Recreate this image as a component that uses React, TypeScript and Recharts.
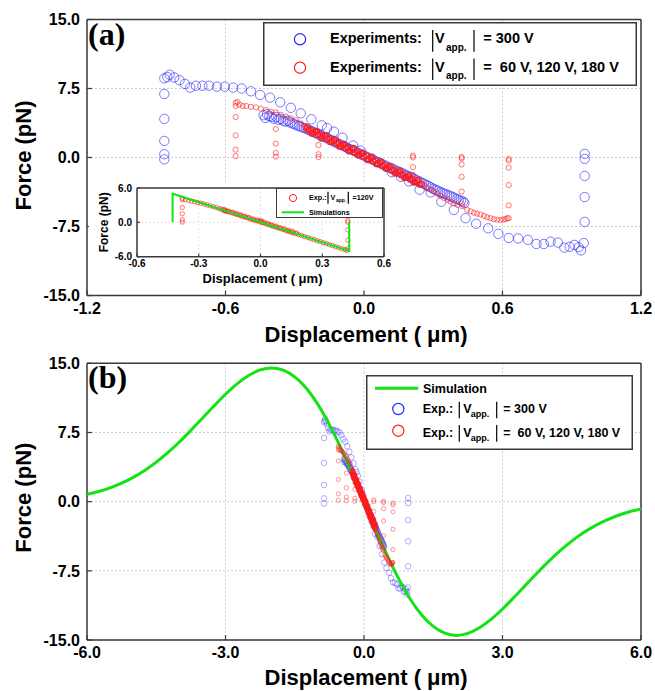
import React from 'react';
import { ComposedChart, Scatter, XAxis, YAxis, CartesianGrid, Legend } from 'recharts';

const FONT = '"Liberation Sans", Arial, Helvetica, sans-serif';
const SERIF = '"Liberation Serif", "Times New Roman", serif';
const FRAME = '#3a3a3a';
const BLUE = '#2a2aff';
const RED = '#ff1a1a';
const GREEN = '#12e312';

// ---------- tick labels ----------
const xTicksA = [-1.2, -0.6, 0, 0.6, 1.2];
const xTicksB = [-6, -3, 0, 3, 6];
const yTicksMain = [-15, -7.5, 0, 7.5, 15];
const xTicksInset = [-0.6, -0.3, 0, 0.3, 0.6];
const yTicksInset = [-6, 0, 6];

// ---------- |V app.| = 300 V experiments (x in um, y in pN) ----------
const blueColLeftX = -0.865;
const blueColLeftY = [8.6, 6.9, 4.2, 1.8, 0.35, -0.2];
const blueUpper = [
  [-0.852, 8.75], [-0.842, 9.0], [-0.822, 8.7], [-0.799, 8.4], [-0.776, 8.0], [-0.753, 7.6],
  [-0.728, 7.8], [-0.7, 7.8], [-0.671, 7.8], [-0.637, 7.7], [-0.603, 7.7], [-0.567, 7.6],
  [-0.53, 7.5], [-0.49, 7.2], [-0.45, 6.8], [-0.407, 6.5], [-0.363, 6.0], [-0.317, 5.4],
  [-0.274, 4.8], [-0.228, 4.15], [-0.183, 3.5], [-0.16, 3.2], [-0.13, 2.8], [-0.093, 2.15],
  [-0.047, 1.3], [-0.015, 0.75],
];
const blueCore = [
  [-0.435, 4.6], [-0.428, 4.3], [-0.42, 4.7], [-0.41, 4.5], [-0.4, 4.4], [-0.39, 4.2], [-0.38, 4.4],
  [-0.37, 4.1], [-0.36, 4.2], [-0.35, 4.0], [-0.34, 3.9], [-0.33, 4.0], [-0.32, 3.8], [-0.31, 3.7],
  [-0.3, 3.6], [-0.29, 3.5], [-0.28, 3.4], [-0.27, 3.3], [-0.26, 3.2], [-0.25, 3.15], [-0.24, 3.0],
  [-0.23, 2.9], [-0.22, 2.8], [-0.21, 2.65], [-0.2, 2.55], [-0.19, 2.45], [-0.18, 2.3], [-0.17, 2.2],
  [-0.16, 2.1], [-0.15, 1.95], [-0.14, 1.85], [-0.13, 1.75], [-0.12, 1.6], [-0.11, 1.5], [-0.1, 1.4],
  [-0.09, 1.25], [-0.08, 1.15], [-0.07, 1.0], [-0.06, 0.9], [-0.05, 0.8], [-0.04, 0.7], [-0.03, 0.55],
  [-0.02, 0.45], [-0.01, 0.3], [0.0, 0.2], [0.01, 0.1], [0.02, -0.05], [0.03, -0.15], [0.04, -0.25],
  [0.05, -0.4], [0.06, -0.5], [0.07, -0.6], [0.08, -0.75], [0.09, -0.85], [0.1, -1.0], [0.11, -1.1],
  [0.12, -1.2], [0.13, -1.3], [0.14, -1.45], [0.15, -1.55], [0.16, -1.65], [0.17, -1.75], [0.18, -1.9],
  [0.19, -2.0], [0.2, -2.1], [0.21, -2.25], [0.22, -2.35], [0.23, -2.5], [0.24, -2.6], [0.25, -2.75],
  [0.26, -2.85], [0.27, -3.0], [0.28, -3.1], [0.29, -3.25], [0.3, -3.4], [0.31, -3.5], [0.32, -3.6],
  [0.33, -3.75], [0.34, -3.85], [0.35, -3.95], [0.36, -4.05], [0.37, -4.15], [0.38, -4.25],
  [0.39, -4.35], [0.4, -4.5], [0.41, -4.6], [0.42, -4.7], [0.43, -4.8], [0.435, -4.95],
];
const blueLower = [
  [0.12, -1.6], [0.16, -2.1], [0.195, -2.6], [0.241, -3.5], [0.289, -3.8], [0.335, -4.8],
  [0.389, -5.7], [0.44, -6.6], [0.486, -7.2], [0.538, -7.7], [0.582, -8.3], [0.627, -8.75],
  [0.668, -8.8], [0.71, -8.95], [0.747, -9.4], [0.779, -9.4], [0.808, -9.15], [0.84, -9.25],
  [0.868, -9.8], [0.891, -9.7], [0.912, -9.5], [0.93, -9.75], [0.94, -10.1], [0.952, -9.3],
];
const blueColRightX = 0.956;
const blueColRightY = [0.4, -0.15, -2.0, -4.3, -7.0];

// ---------- |V app.| = 60, 120, 180 V experiments ----------
const redCols: [number, number[]][] = [
  [-0.556, [5.95, 5.6, 4.4, 2.4, 0.85, 0.15]],
  [-0.382, [3.1, 1.5, 0.5, 0.1]],
  [-0.197, [1.35, 0.35, 0.05]],
  [0.212, [0.2, 0.0, -1.05, -1.9]],
  [0.423, [0.05, -0.1, -0.75, -2.1, -3.7, -5.0]],
  [0.627, [-0.15, -0.35, -1.1, -3.0, -5.2, -6.6]],
];
const redUpper = [
  [-0.548, 6.05], [-0.54, 5.75], [-0.525, 5.6], [-0.51, 5.6], [-0.49, 5.5], [-0.468, 5.45],
  [-0.447, 5.3], [-0.425, 5.16], [-0.403, 5.0], [-0.382, 4.9], [-0.36, 4.64], [-0.338, 4.44],
  [-0.317, 4.26], [-0.295, 4.08], [-0.274, 3.7], [-0.255, 3.4],
];
const redCore = [
  [-0.25, 3.15], [-0.24, 2.95], [-0.23, 2.95], [-0.22, 2.75], [-0.21, 2.75], [-0.2, 2.5], [-0.19, 2.5],
  [-0.18, 2.3], [-0.17, 2.3], [-0.16, 2.05], [-0.15, 2.05], [-0.14, 1.8], [-0.13, 1.8], [-0.12, 1.55],
  [-0.11, 1.55], [-0.1, 1.3], [-0.09, 1.3], [-0.08, 1.05], [-0.07, 1.05], [-0.06, 0.8], [-0.05, 0.85],
  [-0.04, 0.55], [-0.03, 0.6], [-0.02, 0.35], [-0.01, 0.4], [0.0, 0.1], [0.01, 0.2], [0.02, -0.15],
  [0.03, -0.1], [0.04, -0.4], [0.05, -0.35], [0.06, -0.65], [0.07, -0.6], [0.08, -0.9], [0.09, -0.85],
  [0.1, -1.15], [0.11, -1.1], [0.12, -1.4], [0.13, -1.35], [0.14, -1.65], [0.15, -1.6], [0.16, -1.9],
  [0.17, -1.85], [0.18, -2.15], [0.19, -2.1], [0.2, -2.4], [0.21, -2.35], [0.22, -2.65], [0.23, -2.6],
  [0.24, -2.9], [0.25, -2.9],
  [-0.245, 3.3], [-0.225, 2.6], [-0.205, 2.85], [-0.185, 2.1], [-0.165, 2.4], [-0.145, 1.7],
  [-0.125, 1.95], [-0.105, 1.2], [-0.085, 1.45], [-0.065, 0.7], [-0.045, 1.0], [-0.025, 0.25],
  [-0.005, 0.5], [0.015, -0.25], [0.035, 0.05], [0.055, -0.7], [0.075, -0.45], [0.095, -1.2],
  [0.115, -0.95], [0.135, -1.7], [0.155, -1.45], [0.175, -2.2], [0.195, -1.95], [0.215, -2.7],
  [0.235, -2.45],
];
const redLower = [
  [0.262, -3.1], [0.274, -3.35], [0.29, -3.5], [0.303, -3.7], [0.318, -3.95], [0.332, -4.2],
  [0.347, -4.4], [0.361, -4.6], [0.375, -4.8], [0.389, -5.0], [0.405, -5.15], [0.426, -5.3],
  [0.447, -5.7], [0.462, -5.85], [0.476, -6.0], [0.49, -6.1], [0.505, -6.2], [0.52, -6.35],
  [0.534, -6.5], [0.548, -6.6], [0.563, -6.7], [0.577, -6.75], [0.591, -6.8], [0.603, -6.75],
  [0.613, -6.7], [0.62, -6.6],
];

// ---------- simulation (panel b) ----------
const simX = [
  -6, -5.75, -5.5, -5.25, -5, -4.75, -4.5, -4.25, -4, -3.75, -3.5, -3.25, -3, -2.75, -2.5, -2.25, -2,
  -1.75, -1.5, -1.25, -1, -0.75, -0.5, -0.25, 0, 0.25, 0.5, 0.75, 1, 1.25, 1.5, 1.75, 2, 2.25, 2.5,
  2.75, 3, 3.25, 3.5, 3.75, 4, 4.25, 4.5, 4.75, 5, 5.25, 5.5, 5.75, 6,
];
const simF = [
  0.8, 1.1, 1.5, 2.0, 2.63, 3.38, 4.28, 5.31, 6.47, 7.73, 9.05, 10.37, 11.64, 12.77, 13.68, 14.28, 14.5,
  14.26, 13.53, 12.29, 10.55, 8.35, 5.79, 2.96, 0, -2.96, -5.79, -8.35, -10.55, -12.29, -13.53, -14.26,
  -14.5, -14.28, -13.68, -12.77, -11.64, -10.37, -9.05, -7.73, -6.47, -5.31, -4.28, -3.38, -2.63, -2.0,
  -1.5, -1.1, -0.8,
];

// ---------- inset: |V app.| = 120 V and simulation ----------
const insetColLeftX = -0.38;
const insetColLeftY = [4.2, 3.95, 2.6, 1.5, 0.45, 0.05];
const insetTrack = [
  [-0.365, 3.95], [-0.35, 3.85], [-0.335, 3.7], [-0.32, 3.6], [-0.305, 3.45], [-0.29, 3.35],
  [-0.275, 3.2], [-0.26, 3.05], [-0.245, 2.9], [-0.23, 2.75], [-0.215, 2.6], [-0.2, 2.4], [-0.19, 2.3],
  [-0.18, 2.15], [-0.175, 2.0], [-0.17, 2.05], [-0.165, 1.95], [-0.16, 1.9], [-0.15, 1.8], [-0.14, 1.7],
  [-0.13, 1.55], [-0.12, 1.45], [-0.11, 1.35], [-0.1, 1.2], [-0.09, 1.1], [-0.08, 1.0], [-0.07, 0.85],
  [-0.06, 0.75], [-0.05, 0.6], [-0.04, 0.5], [-0.03, 0.4], [-0.02, 0.3], [-0.01, 0.2], [0.0, 0.3],
  [0.0, 0.05], [0.005, 0.2], [0.01, -0.05], [0.02, -0.15], [0.03, -0.3], [0.04, -0.4], [0.05, -0.5],
  [0.06, -0.65], [0.07, -0.75], [0.08, -0.9], [0.09, -1.0], [0.1, -1.1], [0.11, -1.25], [0.12, -1.35],
  [0.13, -1.5], [0.14, -1.6], [0.15, -1.75], [0.16, -1.85], [0.17, -1.95],
  [-0.175, 2.25], [-0.155, 1.95], [-0.135, 1.8], [-0.115, 1.5], [-0.095, 1.3], [-0.075, 1.05],
  [-0.055, 0.85], [-0.035, 0.55], [-0.015, 0.4], [0.015, 0.05], [0.035, -0.2], [0.055, -0.45],
  [0.075, -0.65], [0.095, -0.95], [0.115, -1.1], [0.135, -1.4], [0.155, -1.55], [0.175, -1.85],
  [0.185, -2.15], [0.2, -2.3], [0.215, -2.5], [0.23, -2.65], [0.245, -2.85], [0.26, -3.0],
  [0.275, -3.2], [0.29, -3.35], [0.305, -3.55], [0.32, -3.7], [0.335, -3.9], [0.35, -4.05],
  [0.365, -4.25], [0.38, -4.4], [0.395, -4.6], [0.41, -4.75], [0.42, -4.9],
];
const insetColRightX = 0.424;
const insetColRightY = [0.35, 0.05, -1.3, -3.1, -4.6];
const insetSimX = [-0.427, -0.427, 0.431, 0.431];
const insetSimF = [0.0, 5.0, -5.0, 0.0];

// ---------- build series ----------
const pts = (arr: number[][]) => arr.map(([x, y]) => ({ x, y }));
const col = (x: number, ys: number[]) => ys.map((y) => ({ x, y }));
const blue300 = [
  ...col(blueColLeftX, blueColLeftY),
  ...pts(blueUpper),
  ...pts(blueCore),
  ...pts(blueLower),
  ...col(blueColRightX, blueColRightY),
];
const redSparse = [
  ...redCols.flatMap(([x, ys]) => col(x, ys)),
  ...pts(redUpper),
  ...pts(redLower),
];
const redDense = pts(redCore);
const simData = simX.map((x, i) => ({ x, y: simF[i] }));
const inset120 = [
  ...col(insetColLeftX, insetColLeftY),
  ...pts(insetTrack),
  ...col(insetColRightX, insetColRightY),
];
const insetSim = insetSimX.map((x, i) => ({ x, y: insetSimF[i] }));

// ---------- helpers ----------
const fmt1 = (v: number) => v.toFixed(1);
const ring = (r: number, color: string, op: number, sw = 1) => (p: any) =>
  p && p.cx != null ? (
    <circle cx={p.cx} cy={p.cy} r={r} fill="none" stroke={color} strokeOpacity={op} strokeWidth={sw} />
  ) : (
    <g />
  );
const noDot = () => <g />;

const tickFont = { fill: '#000', fontSize: 16, fontWeight: 700, fontFamily: FONT };
const tickFontSmall = { fill: '#000', fontSize: 10, fontWeight: 700, fontFamily: FONT };
const axisLine = { stroke: FRAME, strokeWidth: 1.5 };
const tickLine = { stroke: FRAME, strokeWidth: 1.2 };

const xLabel = (dy: number, size: number, dx = 2) => (p: any) => {
  const vb = p.viewBox || { x: 0, y: 0, width: 0, height: 0 };
  return (
    <text
      x={vb.x + vb.width / 2 + dx}
      y={vb.y + dy}
      textAnchor="middle"
      fill="#000"
      style={{ fontFamily: FONT, fontWeight: 700, fontSize: size }}
    >
      Displacement ( μm)
    </text>
  );
};
const yLabel = (cx: number, dyc: number, size: number) => (p: any) => {
  const vb = p.viewBox || { x: 0, y: 0, width: 0, height: 0 };
  const cy = vb.y + vb.height / 2 + dyc;
  return (
    <text
      x={cx}
      y={cy}
      transform={`rotate(-90 ${cx} ${cy})`}
      textAnchor="middle"
      dominantBaseline="central"
      fill="#000"
      style={{ fontFamily: FONT, fontWeight: 700, fontSize: size }}
    >
      Force (pN)
    </text>
  );
};

type RowProps = {
  base: number;
  size: number;
  sub: number;
  label: string;
  lx: number;
  b1: number;
  vx: number;
  ax: number;
  b2: number;
  rx: number;
  rhs: string;
  barUp: number;
  barDown: number;
  subDrop: number;
};
const VRow = (r: RowProps) => (
  <g style={{ fontFamily: FONT, fontWeight: 700 }} fill="#000">
    <text x={r.lx} y={r.base} fontSize={r.size}>{r.label}</text>
    <line x1={r.b1} x2={r.b1} y1={r.base - r.barUp} y2={r.base + r.barDown} stroke="#000" strokeWidth={1.2} />
    <text x={r.vx} y={r.base} fontSize={r.size}>V</text>
    <text x={r.ax} y={r.base + r.subDrop} fontSize={r.sub}>app.</text>
    <line x1={r.b2} x2={r.b2} y1={r.base - r.barUp} y2={r.base + r.barDown} stroke="#000" strokeWidth={1.2} />
    <text x={r.rx} y={r.base} fontSize={r.size} style={{ whiteSpace: 'pre' }}>{r.rhs}</text>
  </g>
);

const LegendA = () => (
  <svg width={374} height={64} style={{ display: 'block', overflow: 'visible' }}>
    <rect x={0.75} y={0.75} width={372.5} height={62.5} fill="#fff" stroke={FRAME} strokeWidth={1.5} />
    <circle cx={37} cy={17.3} r={5.6} fill="none" stroke={BLUE} strokeWidth={1.2} />
    <circle cx={37} cy={45.7} r={5.6} fill="none" stroke={RED} strokeWidth={1.2} />
    <VRow base={21.3} size={14.5} sub={10} label="Experiments:" lx={67} b1={169.7} vx={172} ax={183} b2={211} rx={220.3}
      rhs="= 300 V" barUp={13.3} barDown={8.4} subDrop={7.5} />
    <VRow base={49.7} size={14.5} sub={10} label="Experiments:" lx={67} b1={169.7} vx={172} ax={183} b2={211} rx={220.3}
      rhs="=  60 V, 120 V, 180 V" barUp={13.3} barDown={8.4} subDrop={7.5} />
  </svg>
);

const LegendB = () => (
  <svg width={267} height={75} style={{ display: 'block', overflow: 'visible' }}>
    <rect x={0.75} y={0.75} width={265.5} height={73.5} fill="#fff" stroke={FRAME} strokeWidth={1.5} />
    <line x1={9} x2={52.3} y1={13.3} y2={13.3} stroke={GREEN} strokeWidth={3} />
    <text x={57} y={18.3} fontSize={12.5} fill="#000" style={{ fontFamily: FONT, fontWeight: 700 }}>Simulation</text>
    <circle cx={32.3} cy={34} r={5.6} fill="none" stroke={BLUE} strokeWidth={1.2} />
    <circle cx={32.3} cy={55.7} r={5.6} fill="none" stroke={RED} strokeWidth={1.2} />
    <VRow base={38.3} size={12.5} sub={9} label="Exp.:" lx={56.7} b1={93.3} vx={97.3} ax={104.7} b2={130.7} rx={137.3}
      rhs="= 300 V" barUp={11.6} barDown={5} subDrop={4} />
    <VRow base={61.7} size={12.5} sub={9} label="Exp.:" lx={56.7} b1={93.3} vx={97.3} ax={104.7} b2={130.7} rx={137.3}
      rhs="=  60 V, 120 V, 180 V" barUp={11.6} barDown={5} subDrop={4} />
  </svg>
);

const LegendInset = () => (
  <svg width={107} height={30} style={{ display: 'block', overflow: 'visible' }}>
    <rect x={0.5} y={0.5} width={106} height={29} fill="#fff" stroke={FRAME} strokeWidth={1} />
    <circle cx={17} cy={10} r={3.6} fill="none" stroke={RED} strokeWidth={1} />
    <VRow base={11.7} size={7.2} sub={5} label="Exp.:" lx={33} b1={52} vx={54.5} ax={60} b2={72.3} rx={76.5}
      rhs="=120V" barUp={8} barDown={4} subDrop={2.5} />
    <line x1={5.7} x2={28} y1={24.3} y2={24.3} stroke={GREEN} strokeWidth={2} />
    <text x={33} y={26.8} fontSize={7.2} fill="#000" style={{ fontFamily: FONT, fontWeight: 700 }}>Simulations</text>
  </svg>
);

export default function App() {
  return (
    <div style={{ position: 'absolute', left: 0, top: 0, width: 655, height: 691, background: '#fff', overflow: 'hidden' }}>
      {/* Panel (a) */}
      <div style={{ position: 'absolute', left: 0, top: 0 }}>
        <ComposedChart width={655} height={350} margin={{ top: 18.5, right: 13, bottom: 0, left: 0 }}>
          <CartesianGrid stroke="#cdcdcd" strokeDasharray="2 2" />
          <XAxis type="number" dataKey="x" domain={[-1.2, 1.2]} ticks={xTicksA} interval={0} tickFormatter={fmt1}
            height={54.5} tickSize={-5} tickMargin={12} axisLine={axisLine} tickLine={tickLine} tick={tickFont}
            allowDataOverflow label={xLabel(46.2, 22)} />
          <XAxis xAxisId="top" orientation="top" type="number" domain={[-1.2, 1.2]} ticks={xTicksA} interval={0}
            height={1} tick={false} tickSize={-5} axisLine={axisLine} tickLine={tickLine} allowDataOverflow />
          <YAxis type="number" dataKey="y" domain={[-15, 15]} ticks={yTicksMain} interval={0} tickFormatter={fmt1}
            width={87} tickSize={-5} tickMargin={12} axisLine={axisLine} tickLine={tickLine} tick={tickFont}
            allowDataOverflow label={yLabel(23.5, -2, 22)} />
          <YAxis yAxisId="right" orientation="right" type="number" domain={[-15, 15]} ticks={yTicksMain} interval={0}
            width={1} tick={false} tickSize={-5} axisLine={axisLine} tickLine={tickLine} allowDataOverflow />
          <Scatter data={blue300} shape={ring(4.7, BLUE, 0.62)} isAnimationActive={false} />
          <Scatter data={redSparse} shape={ring(2.6, RED, 0.6)} isAnimationActive={false} />
          <Scatter data={redDense} shape={ring(2.8, RED, 0.8, 1.4)} isAnimationActive={false} />
          <Legend layout="vertical" align="center" verticalAlign="middle" content={LegendA}
            wrapperStyle={{ left: 263, top: 22, width: 374, height: 64 }} />
        </ComposedChart>
      </div>

      {/* Inset */}
      <div style={{ position: 'absolute', left: 89, top: 182, width: 310, height: 108, background: '#fff' }}>
        <ComposedChart width={310} height={108} margin={{ top: 5, right: 14, bottom: 0, left: 0 }}>
          <CartesianGrid stroke="#e4e4e4" strokeDasharray="2 2" />
          <XAxis type="number" dataKey="x" domain={[-0.6, 0.6]} ticks={xTicksInset} interval={0} tickFormatter={fmt1}
            height={33.3} tickSize={-3} tickMargin={6} axisLine={axisLine} tickLine={tickLine} tick={tickFontSmall}
            allowDataOverflow label={xLabel(26, 13, 2)} />
          <XAxis xAxisId="top" orientation="top" type="number" domain={[-0.6, 0.6]} ticks={xTicksInset} interval={0}
            height={1} tick={false} tickSize={-3} axisLine={axisLine} tickLine={tickLine} allowDataOverflow />
          <YAxis type="number" dataKey="y" domain={[-6, 6]} ticks={yTicksInset} interval={0} tickFormatter={fmt1}
            width={48} tickSize={-3} tickMargin={8} axisLine={axisLine} tickLine={tickLine} tick={tickFontSmall}
            allowDataOverflow label={yLabel(15, 0, 12)} />
          <YAxis yAxisId="right" orientation="right" type="number" domain={[-6, 6]} ticks={yTicksInset} interval={0}
            width={1} tick={false} tickSize={-3} axisLine={axisLine} tickLine={tickLine} allowDataOverflow />
          <Scatter data={inset120} shape={ring(2.2, RED, 0.6)} isAnimationActive={false} />
          <Scatter data={insetSim} shape={noDot} line={{ stroke: GREEN, strokeWidth: 2 }} isAnimationActive={false} />
          <Legend layout="vertical" align="center" verticalAlign="middle" content={LegendInset}
            wrapperStyle={{ left: 187, top: 6, width: 107, height: 30 }} />
        </ComposedChart>
      </div>

      {/* Panel (b) */}
      <div style={{ position: 'absolute', left: 0, top: 340 }}>
        <ComposedChart width={655} height={351} margin={{ top: 22.3, right: 13, bottom: 0, left: 0 }}>
          <CartesianGrid stroke="#cdcdcd" strokeDasharray="2 2" />
          <XAxis type="number" dataKey="x" domain={[-6, 6]} ticks={xTicksB} interval={0} tickFormatter={fmt1}
            height={51} tickSize={-5} tickMargin={12} axisLine={axisLine} tickLine={tickLine} tick={tickFont}
            allowDataOverflow label={xLabel(45, 22)} />
          <XAxis xAxisId="top" orientation="top" type="number" domain={[-6, 6]} ticks={xTicksB} interval={0}
            height={1} tick={false} tickSize={-5} axisLine={axisLine} tickLine={tickLine} allowDataOverflow />
          <YAxis type="number" dataKey="y" domain={[-15, 15]} ticks={yTicksMain} interval={0} tickFormatter={fmt1}
            width={87} tickSize={-5} tickMargin={12} axisLine={axisLine} tickLine={tickLine} tick={tickFont}
            allowDataOverflow label={yLabel(23.5, -4, 22)} />
          <YAxis yAxisId="right" orientation="right" type="number" domain={[-15, 15]} ticks={yTicksMain} interval={0}
            width={1} tick={false} tickSize={-5} axisLine={axisLine} tickLine={tickLine} allowDataOverflow />
          <Scatter data={blue300} shape={ring(2.8, BLUE, 0.38)} isAnimationActive={false} />
          <Scatter data={simData} shape={noDot} line={{ stroke: GREEN, strokeWidth: 3 }} lineJointType="monotoneX"
            isAnimationActive={false} />
          <Scatter data={redSparse} shape={ring(2.1, RED, 0.45)} isAnimationActive={false} />
          <Scatter data={redDense} shape={ring(2.2, RED, 0.8, 1.3)} isAnimationActive={false} />
          <Legend layout="vertical" align="center" verticalAlign="middle" content={LegendB}
            wrapperStyle={{ left: 366, top: 35, width: 267, height: 75 }} />
        </ComposedChart>
      </div>

      {/* panel tags */}
      <svg width={655} height={691} style={{ position: 'absolute', left: 0, top: 0, pointerEvents: 'none' }}>
        <text x={88} y={45} fontSize={32} fontWeight={700} fill="#000" style={{ fontFamily: SERIF }}>(a)</text>
        <text x={88} y={388} fontSize={32} fontWeight={700} fill="#000" style={{ fontFamily: SERIF }}>(b)</text>
      </svg>
    </div>
  );
}
